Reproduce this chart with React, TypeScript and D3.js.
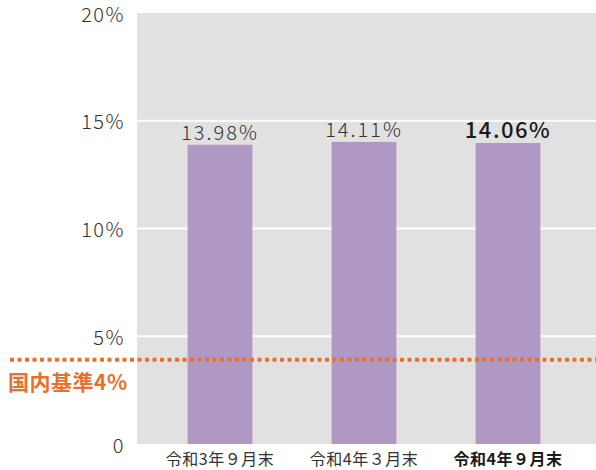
import { useEffect, useRef } from 'react';
import * as d3 from 'd3';

const categories = ['令和3年９月末', '令和4年３月末', '令和4年９月末'];
const values = [13.98, 14.11, 14.06];
const valueLabels = ['13.98%', '14.11%', '14.06%'];
const yTicks = [0, 5, 10, 15, 20];
const baseline = 4;
const baselineLabel = '国内基準4%';

export default function App() {
  const ref = useRef<SVGSVGElement | null>(null);
  useEffect(() => {
    if (!ref.current) return;
    const svg = d3.select(ref.current);
    svg.selectAll('*').remove();
    const W = 596, H = 470;
    const left = 137, right = 596, top = 13, bottom = 444;
    const font = '"Noto Sans CJK JP", "Noto Sans", sans-serif';
    const x = d3.scaleBand<string>().domain(categories).range([148, 580]).paddingInner(0.55).paddingOuter(0.275);
    const y = d3.scaleLinear().domain([0, 20]).range([bottom, top]);

    svg.append('rect').attr('x', left).attr('y', top).attr('width', right - left).attr('height', bottom - top).attr('fill', '#e1e1e1');
    svg.append('g').selectAll('line').data(yTicks.filter(t => t > 0 && t < 20)).enter().append('line')
      .attr('x1', left).attr('x2', right).attr('y1', d => y(d)).attr('y2', d => y(d))
      .attr('stroke', '#ffffff').attr('stroke-width', 2);

    svg.append('g').selectAll('text').data(yTicks).enter().append('text')
      .attr('x', 125).attr('y', d => y(d)).attr('text-anchor', 'end').attr('dominant-baseline', 'central')
      .text(d => (d === 0 ? '0' : d + '%'))
      .style('font-family', font).style('font-size', '20px').style('font-weight', 300)
      .style('letter-spacing', '1.5px').style('fill', '#333');

    svg.append('g').selectAll('rect').data(values).enter().append('rect')
      .attr('x', (_, i) => x(categories[i])!).attr('y', d => y(d) + 2)
      .attr('width', x.bandwidth()).attr('height', d => bottom - y(d) - 2).attr('fill', '#b098c4');

    svg.append('g').selectAll('text').data(valueLabels).enter().append('text')
      .attr('x', (_, i) => x(categories[i])! + x.bandwidth() / 2)
      .attr('y', (_, i) => y(values[i]) - 3)
      .attr('text-anchor', 'middle').text(d => d)
      .style('font-family', font)
      .style('font-size', (_, i) => (i === 2 ? '22px' : '20px'))
      .style('font-weight', (_, i) => (i === 2 ? 500 : 300))
      .style('letter-spacing', (_, i) => (i === 2 ? '1.5px' : '2px'))
      .style('fill', (_, i) => (i === 2 ? '#1a1a1a' : '#333'));

    svg.append('g').selectAll('text').data(categories).enter().append('text')
      .attr('x', d => x(d)! + x.bandwidth() / 2).attr('y', 465)
      .attr('text-anchor', 'middle').text(d => d)
      .style('font-family', font).style('font-size', '16px')
      .style('font-weight', (_, i) => (i === 2 ? 700 : 400))
      .style('letter-spacing', '0.5px')
      .style('fill', (_, i) => (i === 2 ? '#1a1a1a' : '#333'));

    svg.append('line').attr('x1', 10).attr('x2', W).attr('y1', y(baseline) + 2).attr('y2', y(baseline) + 2)
      .attr('stroke', '#e8702a').attr('stroke-width', 4).attr('stroke-dasharray', '4 3.5');
    svg.append('text').attr('x', 8).attr('y', 390).text(baselineLabel)
      .style('font-family', font).style('font-size', '21px').style('font-weight', 700)
      .style('letter-spacing', '0.5px').style('fill', '#e8702a');
    svg.attr('width', W).attr('height', H);
  }, []);
  return (
    <div style={{ position: 'absolute', left: 0, top: 0, width: 596, height: 470, background: '#fff' }}>
      <svg ref={ref} width={596} height={470} style={{ display: 'block' }} />
    </div>
  );
}
